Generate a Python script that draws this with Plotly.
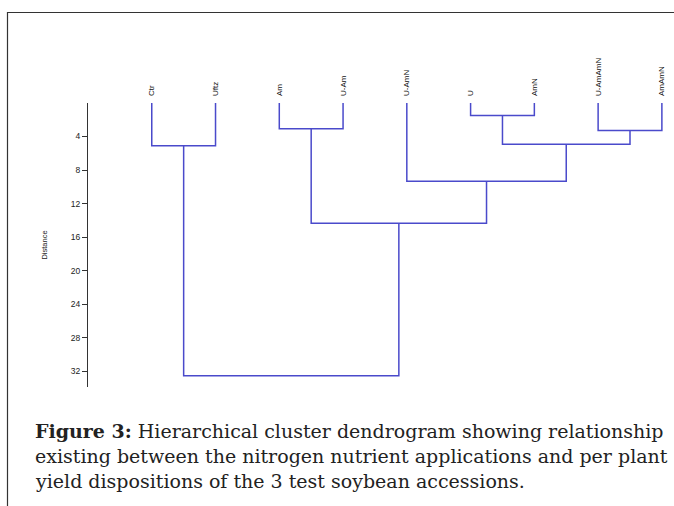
import plotly.graph_objects as go

# ---- data ----
leaves = ["Ctr", "Uftz", "Am", "U-Am", "U-AmN", "U", "AmN", "U-AmAmN", "AmAmN"]
# merges: (left child, right child, distance); children are leaf names or merge ids "m1".."m8"
merge_left = ["Ctr", "Am", "U", "U-AmAmN", "m3", "U-AmN", "m2", "m1"]
merge_right = ["Uftz", "U-Am", "AmN", "AmAmN", "m4", "m5", "m6", "m7"]
merge_height = [5.11, 3.08, 1.49, 3.28, 4.91, 9.33, 14.34, 32.57]
y_ticks = [4, 8, 12, 16, 20, 24, 28, 32]
caption_lines = [
    "<b>Figure 3:</b> Hierarchical cluster dendrogram showing relationship",
    "existing between the nitrogen nutrient applications and per plant",
    "yield dispositions of the 3 test soybean accessions.",
]

W, H = 674, 506
ML, MR, MT, MB = 88, 0, 103, 119
x_max = 9.19
y_max = 33.9
LINE = "#4a4acb"

pos = {name: (i + 1, 0.0) for i, name in enumerate(leaves)}
xs, ys = [], []
for k, (a, b, h) in enumerate(zip(merge_left, merge_right, merge_height)):
    xa, ha = pos[a]
    xb, hb = pos[b]
    xs += [xa, xa, xb, xb, None]
    ys += [ha, h, h, hb, None]
    pos["m%d" % (k + 1)] = ((xa + xb) / 2, h)

fig = go.Figure()
fig.add_trace(go.Scatter(x=xs, y=ys, mode="lines",
                         line=dict(color=LINE, width=1.5),
                         hoverinfo="skip", showlegend=False))

fig.update_layout(
    width=W, height=H,
    margin=dict(l=ML, r=MR, t=MT, b=MB),
    paper_bgcolor="white", plot_bgcolor="white",
    font=dict(family="Liberation Sans, Arial, sans-serif", color="#333333"),
    xaxis=dict(range=[0, x_max], side="top", tickmode="array",
               tickvals=list(range(1, len(leaves) + 1)), ticktext=leaves,
               tickangle=-90, ticks="", showline=False, showgrid=False,
               zeroline=False, ticklabelstandoff=6,
               tickfont=dict(size=8, color="#111111")),
    yaxis=dict(range=[y_max, 0], tickmode="array", tickvals=y_ticks,
               ticks="outside", ticklen=5, tickwidth=1, tickcolor="#333333",
               showline=True, linecolor="#333333", linewidth=1.3,
               showgrid=False, zeroline=False,
               tickfont=dict(size=8.5, color="#222222"),
               title=dict(text="Distance", font=dict(size=7.5, color="#222222"),
                          standoff=22)),
)

def px_to_paper_x(px):
    return (px - ML) / (W - ML - MR)

def px_to_paper_y(py):
    return (H - MB - py) / (H - MT - MB)

# frame lines
fig.add_shape(type="line", xref="paper", yref="paper",
              x0=px_to_paper_x(7), x1=px_to_paper_x(676),
              y0=px_to_paper_y(12.5), y1=px_to_paper_y(12.5),
              line=dict(color="#333333", width=1.2))
fig.add_shape(type="line", xref="paper", yref="paper",
              x0=px_to_paper_x(7.5), x1=px_to_paper_x(7.5),
              y0=px_to_paper_y(12), y1=px_to_paper_y(508),
              line=dict(color="#333333", width=1.2))

for i, line in enumerate(caption_lines):
    fig.add_annotation(xref="paper", yref="paper",
                       x=px_to_paper_x(33), y=px_to_paper_y(431 + 25 * i),
                       xanchor="left", yanchor="middle", showarrow=False,
                       text=line,
                       font=dict(family="DejaVu Serif, serif",
                                 size=19, color="#222222"))

fig.write_html("out.html", config={"displayModeBar": False},
               post_script="document.body.style.margin='0';document.body.style.overflow='hidden';")
